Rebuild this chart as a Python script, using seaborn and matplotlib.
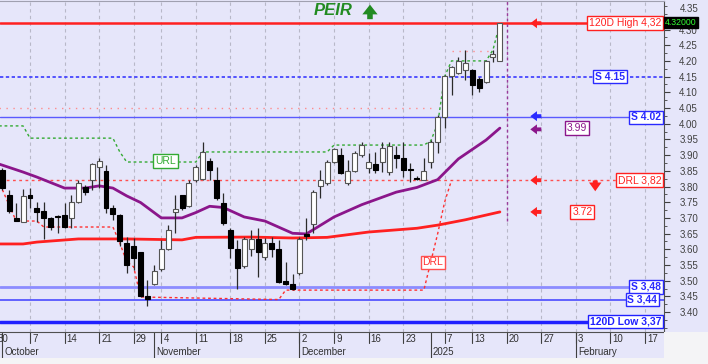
import numpy as np
import pandas as pd
import matplotlib
matplotlib.use("Agg")
import matplotlib.pyplot as plt
import matplotlib.transforms as mtransforms
from matplotlib.patches import Rectangle
import seaborn as sns

sns.set_style("white")
plt.rcParams['font.family'] = ['Liberation Sans', 'DejaVu Sans']

# trading calendar (Athens exchange), index 0 = 30 Sep 2024
holidays = ["2024-10-28", "2024-12-25", "2024-12-26", "2024-12-31", "2025-01-01", "2025-01-06"]
days = pd.bdate_range("2024-09-30", "2025-02-21")
days = days[~days.isin(pd.to_datetime(holidays))]
day_idx = {d.strftime("%Y-%m-%d"): i for i, d in enumerate(days)}

# daily candles 1 Oct 2024 .. 17 Jan 2025
opens = [3.853, 3.773, 3.700, 3.688,
         3.773, 3.732, 3.722, 3.700, 3.703,
         3.709, 3.700, 3.751, 3.798, 3.821,
         3.862, 3.849, 3.732, 3.709, 3.620,
         3.611, 3.591, 3.451, 3.489,
         3.537, 3.601, 3.719, 3.773, 3.738,
         3.821, 3.824, 3.881, 3.821, 3.747,
         3.661, 3.601, 3.547, 3.601, 3.633,
         3.575, 3.620, 3.601, 3.499, 3.489,
         3.524, 3.649, 3.681, 3.802, 3.811,
         3.878, 3.900, 3.811, 3.849, 3.900,
         3.859, 3.872, 3.878, 3.846, 3.900,
         3.891, 3.856, 3.824,
         3.821, 3.878, 3.942,
         4.021, 4.152, 4.161, 4.171,
         4.171, 4.142, 4.133, 4.212, 4.200]
highs = [3.859, 3.789, 3.747, 3.792,
         3.795, 3.751, 3.751, 3.703, 3.709,
         3.747, 3.773, 3.821, 3.805, 3.875,
         3.891, 3.868, 3.741, 3.712, 3.639,
         3.636, 3.591, 3.502, 3.550,
         3.630, 3.677, 3.773, 3.773, 3.821,
         3.868, 3.942, 3.891, 3.862, 3.779,
         3.668, 3.630, 3.639, 3.661, 3.668,
         3.636, 3.639, 3.630, 3.560, 3.521,
         3.639, 3.700, 3.789, 3.853, 3.884,
         3.923, 3.923, 3.884, 3.913, 3.942,
         3.907, 3.910, 3.942, 3.942, 3.929,
         3.942, 3.875, 3.833,
         3.891, 3.948, 4.028,
         4.155, 4.184, 4.212, 4.235,
         4.174, 4.149, 4.203, 4.235, 4.320]
lows = [3.789, 3.716, 3.690, 3.687,
        3.732, 3.687, 3.633, 3.661, 3.652,
        3.668, 3.668, 3.747, 3.773, 3.789,
        3.795, 3.716, 3.693, 3.611, 3.524,
        3.534, 3.448, 3.419, 3.486,
        3.531, 3.598, 3.652, 3.725, 3.735,
        3.814, 3.821, 3.821, 3.757, 3.677,
        3.572, 3.474, 3.540, 3.579, 3.512,
        3.566, 3.575, 3.493, 3.486, 3.470,
        3.518, 3.630, 3.652, 3.763, 3.805,
        3.875, 3.840, 3.805, 3.846, 3.894,
        3.843, 3.843, 3.846, 3.837, 3.859,
        3.830, 3.814, 3.821,
        3.821, 3.859, 3.907,
        3.986, 4.091, 4.158, 4.139,
        4.091, 4.101, 4.130, 4.197, 4.200]
closes = [3.795, 3.722, 3.690, 3.771,
          3.763, 3.719, 3.700, 3.671, 3.702,
          3.671, 3.751, 3.811, 3.782, 3.872,
          3.881, 3.732, 3.712, 3.626, 3.550,
          3.572, 3.451, 3.442, 3.531,
          3.601, 3.661, 3.728, 3.732, 3.811,
          3.862, 3.910, 3.853, 3.763, 3.684,
          3.604, 3.540, 3.633, 3.633, 3.591,
          3.620, 3.601, 3.496, 3.489, 3.474,
          3.633, 3.642, 3.782, 3.821, 3.878,
          3.919, 3.843, 3.849, 3.907, 3.932,
          3.878, 3.853, 3.923, 3.929, 3.891,
          3.853, 3.854, 3.823,
          3.849, 3.942, 4.021,
          4.152, 4.181, 4.200, 4.193,
          4.123, 4.114, 4.200, 4.222, 4.320]

# moving averages (read at sample days)
ma_short_day = [0, 1, 4, 6, 10, 13, 15, 17, 19, 21, 24, 27, 29, 31, 33, 36, 39, 43, 45, 49, 53, 58, 61, 64, 67, 71, 73]
ma_short_val = [3.875, 3.868, 3.846, 3.830, 3.795, 3.795, 3.802, 3.795, 3.770, 3.749, 3.700, 3.700, 3.717,
                3.737, 3.733, 3.703, 3.690, 3.651, 3.649, 3.703, 3.742, 3.782, 3.797, 3.822, 3.888, 3.948, 3.986]
ma_long_day = [0, 4, 6, 12, 19, 27, 29, 37, 43, 48, 54, 61, 64, 68, 73]
ma_long_val = [3.617, 3.617, 3.623, 3.633, 3.633, 3.630, 3.638, 3.639, 3.636, 3.638, 3.655, 3.667, 3.677, 3.694, 3.719]

# URL / DRL step lines
url_day = [0, 4, 5, 17, 18, 19, 29, 30, 48, 49, 62, 63, 64, 65, 66, 71, 72, 73]
url_val = [3.993, 3.993, 3.954, 3.954, 3.910, 3.878, 3.878, 3.910, 3.910, 3.932, 3.932, 3.945, 4.000,
           4.150, 4.200, 4.200, 4.235, 4.320]
drl_day = [1, 3, 6, 7, 17, 18, 19, 20, 21, 41, 42, 62, 63, 64, 65, 66]
drl_val = [3.790, 3.690, 3.690, 3.671, 3.671, 3.620, 3.560, 3.544, 3.448, 3.440, 3.470, 3.470, 3.560,
           3.650, 3.750, 3.820]
upper_day = [0, 63, 63, 66, 72]
upper_val = [4.05, 4.05, np.nan, 4.23, 4.23]

# support / resistance levels
high_120 = 4.32
low_120 = 3.37
sup_levels = [4.15, 4.02, 3.48, 3.44]
drl_level = 3.82
last_price = 4.32
future_day = "2025-01-20"

price_ticks = [3.40, 3.45, 3.50, 3.55, 3.60, 3.65, 3.70, 3.75, 3.80, 3.85, 3.90, 3.95,
               4.00, 4.05, 4.10, 4.15, 4.20, 4.25, 4.30]
week_ticks = ["2024-09-30", "2024-10-07", "2024-10-14", "2024-10-21", "2024-10-29", "2024-11-04",
              "2024-11-11", "2024-11-18", "2024-11-25", "2024-12-02", "2024-12-09", "2024-12-16",
              "2024-12-23", "2025-01-07", "2025-01-13", "2025-01-20", "2025-01-27", "2025-02-03",
              "2025-02-10", "2025-02-17"]
month_starts = ["2024-10-01", "2024-11-01", "2024-12-02", "2025-01-02", "2025-02-03"]
month_labels = ["October", "November", "December", "2025", "February"]

W, H = 708, 364
fig = plt.figure(figsize=(W / 100, H / 100), dpi=100)
fig.patch.set_facecolor('#e6e6fa')
fig.patches.append(Rectangle((664 / W, 0), 44 / W, 32 / H, transform=fig.transFigure,
                             fc='#f4f4f6', ec='none', zorder=0))
fig.patches.append(Rectangle((0, 0), 664 / W, 6 / H, transform=fig.transFigure,
                             fc='#f4f4f6', ec='none', zorder=0))
ax = fig.add_axes([0, 32 / H, 664 / W, 331 / H])
ax.set_facecolor('#e6e6fa')
ax.set_xlim(0.66, 96.75)
ax.set_ylim(3.3366, 4.3908)

# weekly grid
for d in week_ticks:
    ax.axvline(day_idx[d], color='#b8b8c8', ls=(0, (3, 3)), lw=0.8, zorder=0)

# horizontal levels
ax.axhline(high_120, color='#ff2020', lw=1.8, zorder=1)
ax.axhline(sup_levels[0], color='#3a3aff', lw=1.2, ls=(0, (2, 1.5)), zorder=1)
ax.axhline(sup_levels[1], color='#5a5aff', lw=1.0, zorder=1)
ax.axhline(sup_levels[2], color='#8c8cff', lw=2.0, zorder=1)
ax.axhline(sup_levels[3], color='#4a4aff', lw=1.2, zorder=1)
ax.axhline(low_120, color='#2020ff', lw=2.5, zorder=1)
ax.axhline(drl_level, color='#ff5050', lw=1.0, ls=(0, (2, 2.5)), zorder=1)
ax.plot(upper_day, upper_val, color='#ff8c8c', lw=1.0, ls=(0, (1, 4)), zorder=1)
ax.vlines(day_idx[future_day], 3.69, 4.3908, color='#9a3a9a', lw=1.0, ls=(0, (2, 2)), zorder=1)

# step lines
ax.plot(url_day, url_val, color='#33aa33', lw=1.0, ls=(0, (2, 2)), zorder=2)
ax.plot(drl_day, drl_val, color='#ff3030', lw=1.0, ls=(0, (2, 2)), zorder=2)

# moving averages
sns.lineplot(x=ma_long_day, y=ma_long_val, ax=ax, color='#ff2020', lw=2.0, zorder=2)
sns.lineplot(x=ma_short_day, y=ma_short_val, ax=ax, color='#8b168b', lw=2.0, zorder=2)

# candles
o = np.array(opens); h = np.array(highs); l = np.array(lows); c = np.array(closes)
cx = np.arange(1, len(o) + 1)
up = c >= o
ax.vlines(cx, l, h, color='#2a2a2a', lw=0.9, zorder=3)
body = np.maximum(np.abs(c - o), 0.003)
ax.bar(cx[up], body[up], bottom=np.minimum(o, c)[up], width=0.72, color='white',
       edgecolor='#555555', lw=0.8, zorder=4)
ax.bar(cx[~up], body[~up], bottom=np.minimum(o, c)[~up], width=0.72, color='black',
       edgecolor='black', lw=0.8, zorder=4)

# labels at the right
ty = mtransforms.blended_transform_factory(ax.transAxes, ax.transData)
def tag(x, y, s, col, ha='center', bold=False):
    ax.text(x, y, s, transform=ty, ha=ha, va='center', fontsize=7.5, color=col,
            fontweight='bold' if bold else 'normal', zorder=6,
            bbox=dict(boxstyle='square,pad=0.18', fc='white', ec=col, lw=1.0))

tag(0.996, high_120, "120D High 4,32", '#ff2020', ha='right')
tag(0.919, sup_levels[0], "S 4.15", '#2a2aff', bold=True)
tag(0.996, sup_levels[1], "S 4.02", '#2a2aff', ha='right', bold=True)
tag(0.869, ma_short_val[-1], "3.99", '#8b168b')
tag(0.996, drl_level, "DRL 3,82", '#ff2020', ha='right')
tag(0.877, ma_long_val[-1], "3.72", '#ff2020')
tag(0.996, sup_levels[2], "S 3,48", '#2a2aff', ha='right', bold=True)
tag(0.990, sup_levels[3], "S 3,44", '#2a2aff', ha='right', bold=True)
tag(0.996, low_120, "120D Low 3,37", '#2020ff', ha='right', bold=True)

ax.text(63.3, 3.558, "DRL", fontsize=7.5, color='#ff3030', ha='center', va='center', zorder=6,
        bbox=dict(boxstyle='square,pad=0.18', fc='white', ec='#ff5050', lw=1.0))
ax.text(24.6, 3.882, "URL", fontsize=7.5, color='#33aa33', ha='center', va='center', zorder=6,
        bbox=dict(boxstyle='square,pad=0.18', fc='white', ec='#33aa33', lw=1.0))

# arrows
def larrow(y, col):
    ax.annotate('', xy=(77.0, y), xytext=(79.4, y),
                arrowprops=dict(arrowstyle='simple,head_width=0.9,head_length=0.6,tail_width=0.35',
                                color=col, lw=0, mutation_scale=8), zorder=6)
larrow(high_120, '#ff2020')
larrow(sup_levels[1] + 0.004, '#2a2aff')
larrow(ma_short_val[-1] - 0.004, '#8b168b')
larrow(drl_level, '#ff2020')
larrow(ma_long_val[-1], '#ff2020')
ax.annotate('', xy=(86.8, 3.776), xytext=(86.8, 3.828),
            arrowprops=dict(arrowstyle='simple,head_width=1.0,head_length=0.7,tail_width=0.4',
                            color='#ff2020', lw=0, mutation_scale=9), zorder=6)

# title
ax.text(48.8, 4.359, "PEIR", fontsize=12, fontweight='bold', fontstyle='italic',
        color='#228b22', ha='center', va='center', zorder=6)
ax.annotate('', xy=(54.2, 4.388), xytext=(54.2, 4.324),
            arrowprops=dict(arrowstyle='simple,head_width=1.1,head_length=0.7,tail_width=0.4',
                            color='#228b22', lw=0, mutation_scale=10), zorder=6)

# right price axis
ax.yaxis.tick_right()
ax.set_yticks(price_ticks)
ax.set_yticks(np.arange(3.35, 4.39, 0.025), minor=True)
ax.yaxis.set_major_formatter(matplotlib.ticker.FormatStrFormatter('%.2f'))
ax.tick_params(axis='y', which='major', length=4, width=0.8, color='#404040',
               labelsize=7, labelcolor='#404040', pad=7, right=True, left=False)
ax.tick_params(axis='y', which='minor', length=2, width=0.6, color='#404040', right=True, left=False)
# top label sits above the last-price box
ax.text(1.0235, 4.35, "4.35", transform=ty, ha='left', va='bottom', fontsize=7, color='#404040',
        clip_on=False)
ax.set_xticks([])
ax.set_ylabel("")
ax.set_xlabel("")
ax.spines['left'].set_visible(False)
for s in ['right', 'bottom', 'top']:
    ax.spines[s].set_color('#505050')
    ax.spines[s].set_linewidth(0.8)
ax.spines['top'].set_color('#a0a0b0')

ax.text(1.0015, last_price + 0.002, "4.32000", transform=ty, ha='left', va='center', fontsize=6.3,
        color='#33ff33', zorder=7, bbox=dict(boxstyle='square,pad=0.15', fc='black', ec='black'),
        clip_on=False)

# date axis
tx = mtransforms.blended_transform_factory(ax.transData, ax.transAxes)
for d in week_ticks:
    i = day_idx[d]
    ax.plot([i, i], [0, -0.034], transform=tx, color='#404040', lw=0.8, clip_on=False)
    ax.text(i + 0.3, -0.006, str(int(d[-2:])), transform=tx, ha='left', va='top',
            fontsize=7, color='#303030', clip_on=False)
for d, lab in zip(month_starts, month_labels):
    i = day_idx[d]
    ax.plot([i, i], [0, -0.078], transform=tx, color='#404040', lw=0.8, clip_on=False)
    ax.text(i + 0.3, -0.045, lab, transform=tx, ha='left', va='top',
            fontsize=7, color='#303030', clip_on=False)

fig.savefig("out.png", dpi=100, facecolor=fig.get_facecolor())
